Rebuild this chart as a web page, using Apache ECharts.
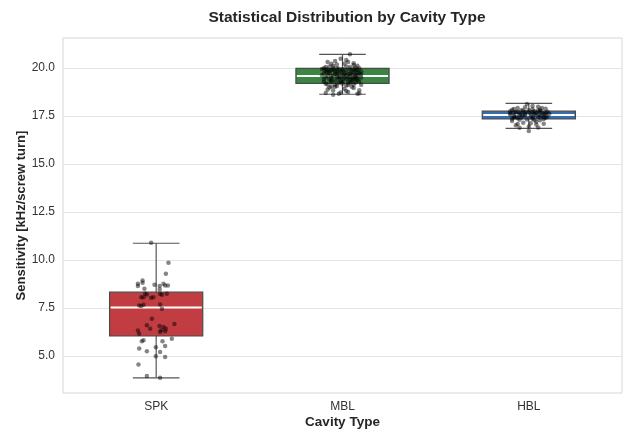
<!DOCTYPE html>
<html>
<head>
<meta charset="utf-8">
<script src="https://cdn.jsdelivr.net/npm/echarts@6/dist/echarts.min.js"></script>
<style>
  html, body { margin: 0; padding: 0; background: #fff; }
  #chart { width: 623px; height: 430px; }
</style>
</head>
<body>
<div id="chart"></div>
<script>
// cavity types on the x axis
const categories = ['SPK', 'MBL', 'HBL'];
const boxColors = ['#c13d42', '#3a8542', '#376cb0'];

// [min whisker, Q1, median, Q3, max whisker]
const boxStats = [
    [3.86, 6.04, 7.52, 8.32, 10.87],
    [18.63, 19.20, 19.58, 19.98, 20.71],
    [16.85, 17.34, 17.55, 17.75, 18.15]
];

const yTicks = [5, 7.5, 10, 12.5, 15, 17.5, 20];

// stripplot points: [jitter offset, sensitivity]
const spkPoints = [
    [-0.027, 10.89], [0.066, 9.85], [0.052, 9.28], [-0.073, 8.93], [-0.073, 8.81],
    [-0.098, 8.76], [-0.098, 8.64], [-0.063, 8.50], [-0.009, 8.71], [0.019, 8.64],
    [0.019, 8.46], [0.039, 8.76], [0.048, 8.67], [0.063, 8.67], [0.057, 8.24],
    [0.031, 8.19], [0.021, 8.22], [-0.059, 8.24], [-0.050, 8.20], [-0.080, 8.06],
    [-0.068, 8.06], [-0.027, 8.03], [-0.015, 8.06], [-0.091, 7.63], [-0.080, 7.60],
    [-0.068, 7.67], [0.021, 7.68], [0.031, 7.46], [-0.023, 6.94], [-0.098, 6.33],
    [-0.091, 6.16], [-0.050, 6.60], [-0.032, 6.42], [0.018, 6.56], [0.027, 6.34],
    [0.021, 6.25], [0.039, 6.51], [0.052, 6.42], [0.048, 6.28], [0.098, 6.66],
    [-0.077, 5.76], [-0.068, 5.82], [-0.091, 5.39], [0.034, 5.76], [0.048, 5.52],
    [0.084, 5.90], [0.021, 5.21], [-0.002, 5.45], [-0.050, 5.25], [-0.002, 4.99],
    [0.048, 4.95], [-0.095, 4.56], [-0.050, 3.96], [0.021, 3.86]
];

const mblPoints = [
    [-0.08, 20.31], [-0.05, 20.12], [0.02, 20.42], [0.06, 20.25], [-0.10, 19.98],
    [0.08, 19.91], [-0.03, 19.85], [0.04, 20.05], [-0.07, 19.72], [0.01, 19.66],
    [0.07, 19.58], [-0.09, 19.51], [-0.02, 19.44], [0.05, 19.38], [0.09, 19.30],
    [-0.06, 19.25], [0.00, 19.18], [0.03, 19.11], [-0.04, 19.02], [0.06, 18.95],
    [-0.08, 18.88], [0.02, 18.80], [-0.01, 18.72], [0.08, 18.66], [-0.05, 18.61],
    [0.04, 20.71], [-0.11, 19.62], [-0.09, 19.81], [-0.07, 20.08], [-0.06, 19.47],
    [-0.05, 19.90], [-0.04, 19.34], [-0.03, 20.18], [-0.02, 19.75], [-0.01, 19.55],
    [0.00, 19.95], [0.01, 20.22], [0.02, 19.42], [0.03, 19.68], [0.04, 19.21],
    [0.05, 19.84], [0.06, 19.52], [0.07, 20.02], [0.08, 19.36], [0.09, 19.71],
    [0.10, 19.12], [-0.10, 19.28], [-0.08, 19.58], [-0.07, 18.98], [-0.06, 20.22],
    [-0.04, 19.68], [-0.03, 19.06], [-0.02, 19.96], [0.00, 19.40], [0.01, 18.92],
    [0.02, 19.88], [0.03, 20.31], [0.04, 19.55], [0.05, 19.02], [0.06, 19.78],
    [0.07, 19.24], [0.08, 20.12], [0.09, 18.84], [-0.09, 20.05], [-0.05, 18.82],
    [-0.01, 20.48], [-0.10, 19.72], [-0.08, 19.14], [-0.06, 19.88], [-0.04, 20.36],
    [-0.02, 19.22], [0.00, 19.62], [0.02, 19.08], [0.04, 19.92], [0.06, 20.16],
    [0.08, 19.46], [0.10, 19.82], [-0.07, 19.40], [-0.03, 19.54], [0.01, 19.74],
    [0.05, 19.30], [0.07, 19.64], [-0.05, 20.00], [0.03, 18.75], [-0.09, 18.70],
    [0.09, 18.68], [-0.11, 19.95], [-0.06, 19.60], [-0.02, 18.66], [0.02, 19.60],
    [0.06, 19.45], [0.10, 19.50], [-0.08, 19.92], [-0.04, 19.80], [0.00, 19.85],
    [0.04, 19.70], [0.08, 19.78], [-0.01, 19.30], [0.03, 19.50], [0.07, 19.88],
    [-0.03, 19.66], [-0.10, 19.42], [-0.09, 19.18], [-0.07, 19.86], [-0.06, 19.34],
    [-0.05, 19.58], [-0.04, 19.12], [-0.03, 19.98], [-0.01, 19.82], [0.00, 19.28],
    [0.01, 19.50], [0.02, 20.08], [0.03, 19.26], [0.05, 19.64], [0.06, 19.14],
    [0.07, 19.42], [0.08, 19.60], [0.09, 19.98], [0.10, 19.66], [-0.08, 19.76],
    [-0.02, 19.52], [0.04, 19.40], [-0.06, 19.04], [0.06, 19.94], [-0.09, 19.90]
];

const hblPoints = [
    [-0.01, 18.12], [0.05, 17.98], [-0.06, 17.92], [0.09, 17.88], [-0.09, 17.82],
    [0.02, 17.85], [-0.03, 17.78], [0.06, 17.76], [0.10, 17.72], [-0.07, 17.70],
    [0.00, 17.68], [0.04, 17.65], [-0.05, 17.62], [0.08, 17.60], [-0.10, 17.58],
    [0.03, 17.56], [-0.02, 17.54], [0.07, 17.52], [-0.08, 17.50], [0.01, 17.48],
    [0.05, 17.45], [-0.04, 17.42], [0.09, 17.40], [-0.06, 17.38], [0.02, 17.35],
    [-0.01, 17.32], [0.06, 17.28], [-0.09, 17.24], [0.04, 17.20], [-0.03, 17.15],
    [0.08, 17.10], [-0.07, 17.02], [0.00, 16.95], [0.05, 16.90], [-0.05, 16.88],
    [0.00, 16.72], [-0.10, 17.74], [-0.08, 17.66], [-0.04, 17.80], [-0.02, 17.70],
    [0.01, 17.62], [0.03, 17.74], [0.05, 17.58], [0.07, 17.68], [0.09, 17.56],
    [0.11, 17.62], [-0.07, 17.46], [-0.03, 17.52], [0.02, 17.42], [0.06, 17.50],
    [0.10, 17.46], [-0.05, 17.30], [0.03, 17.28], [0.08, 17.34], [-0.09, 17.36],
    [0.01, 17.12], [-0.06, 17.08], [0.04, 17.05], [0.07, 17.92], [-0.02, 17.95],
    [0.02, 18.02], [-0.08, 17.86], [0.00, 17.80], [0.06, 17.82], [-0.04, 17.60],
    [0.08, 17.44], [-0.10, 17.64], [-0.06, 17.72], [-0.02, 17.62], [0.02, 17.70],
    [0.05, 17.78], [0.09, 17.66], [-0.05, 17.54], [0.03, 17.60], [-0.08, 17.42]
];

const groups = [spkPoints, mblPoints, hblPoints];
const stripData = [];
groups.forEach((pts, i) => {
    pts.forEach(p => stripData.push([i + p[0], p[1]]));
});

const chart = echarts.init(document.getElementById('chart'));
const font = 'Liberation Sans, Arial, sans-serif';

function renderBox(params, api) {
    const idx = api.value(0);
    const band = api.size([1, 0])[0];
    const boxW = band * 0.5;
    const capW = boxW * 0.5;
    const pMin = api.coord([idx, api.value(1)]);
    const pQ1 = api.coord([idx, api.value(2)]);
    const pMed = api.coord([idx, api.value(3)]);
    const pQ3 = api.coord([idx, api.value(4)]);
    const pMax = api.coord([idx, api.value(5)]);
    const cx = pMed[0];
    const whisk = { stroke: '#555', lineWidth: 1.2 };
    return {
        type: 'group',
        children: [
            { type: 'line', shape: { x1: cx, y1: pMax[1], x2: cx, y2: pQ3[1] }, style: whisk },
            { type: 'line', shape: { x1: cx, y1: pQ1[1], x2: cx, y2: pMin[1] }, style: whisk },
            { type: 'line', shape: { x1: cx - capW / 2, y1: pMax[1], x2: cx + capW / 2, y2: pMax[1] }, style: whisk },
            { type: 'line', shape: { x1: cx - capW / 2, y1: pMin[1], x2: cx + capW / 2, y2: pMin[1] }, style: whisk },
            {
                type: 'rect',
                shape: { x: cx - boxW / 2, y: pQ3[1], width: boxW, height: pQ1[1] - pQ3[1] },
                style: { fill: boxColors[idx], stroke: '#4a4a4a', lineWidth: 1.2 }
            },
            {
                type: 'line',
                shape: { x1: cx - boxW / 2 + 1, y1: pMed[1], x2: cx + boxW / 2 - 1, y2: pMed[1] },
                style: { stroke: '#ffffff', lineWidth: 2 }
            }
        ]
    };
}

const option = {
    animation: false,
    backgroundColor: '#ffffff',
    textStyle: { fontFamily: font },
    title: {
        text: 'Statistical Distribution by Cavity Type',
        left: 342,
        textAlign: 'center',
        top: 5,
        textStyle: { fontSize: 15.5, fontWeight: 'bold', color: '#262626', fontFamily: font }
    },
    grid: {
        left: 63, right: 1, top: 38, bottom: 37,
        outerBoundsMode: 'none',
        containLabel: false,
        show: true, borderColor: '#d6d6d6', borderWidth: 1
    },
    xAxis: [
        {
            type: 'category',
            data: categories,
            name: 'Cavity Type',
            nameLocation: 'middle',
            nameGap: 22,
            nameMoveOverlap: false,
            nameTextStyle: { fontSize: 13.5, fontWeight: 'bold', color: '#262626' },
            axisLine: { show: false },
            axisTick: { show: false },
            axisLabel: { fontSize: 12, color: '#333', margin: 8 },
            splitLine: { show: false }
        },
        {
            type: 'value',
            min: -0.5,
            max: 2.5,
            show: false
        }
    ],
    yAxis: {
        type: 'value',
        min: 3.07,
        max: 21.56,
        name: 'Sensitivity [kHz/screw turn]',
        nameLocation: 'middle',
        nameGap: 35,
        nameMoveOverlap: false,
        nameTextStyle: { fontSize: 13, fontWeight: 'bold', color: '#262626' },
        axisLine: { show: false },
        axisTick: { show: false, customValues: yTicks },
        axisLabel: {
            customValues: yTicks,
            fontSize: 12,
            color: '#333',
            margin: 8,
            formatter: v => v.toFixed(1)
        },
        splitLine: { show: true, lineStyle: { color: '#e3e3e3', width: 1 } }
    },
    series: [
        {
            type: 'custom',
            xAxisIndex: 0,
            renderItem: renderBox,
            data: boxStats.map((s, i) => [i].concat(s)),
            z: 2
        },
        {
            type: 'scatter',
            xAxisIndex: 1,
            data: stripData,
            symbolSize: 4.5,
            itemStyle: { color: 'rgba(0,0,0,0.6)' },
            z: 5
        }
    ]
};

chart.setOption(option);
</script>
</body>
</html>
